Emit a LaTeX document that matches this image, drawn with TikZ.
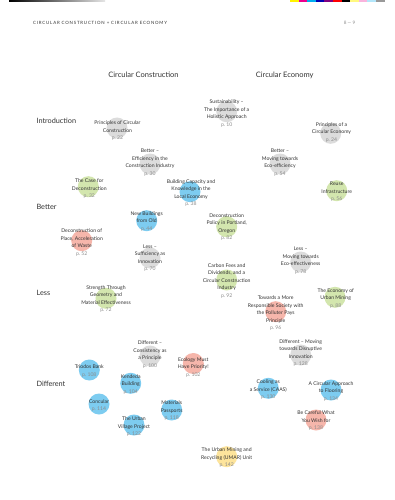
\documentclass[tikz,border=0pt]{standalone}
\usepackage{fontspec}
\setmainfont{Lato}
\newfontfamily\runfont[LetterSpace=18]{Lato}
\definecolor{grayc}{HTML}{DCDCDC}
\definecolor{greenc}{HTML}{D3E6AE}
\definecolor{bluec}{HTML}{7DCCF0}
\definecolor{redc}{HTML}{F6B6AB}
\definecolor{yellowc}{HTML}{FDE49C}
\definecolor{txt}{HTML}{333333}
\definecolor{pgc}{HTML}{8C8C8C}
\newcommand{\pg}[1]{\textcolor{pgc}{p.~#1}}

\tikzset{
  dot/.style={circle, minimum size=21pt, inner sep=0pt},
  topic/.style={align=center, text=txt, inner sep=0pt,
    font=\fontsize{5.1}{7.5}\selectfont},
  colhead/.style={text=txt, font=\fontsize{7.5}{8}\selectfont},
  rowhead/.style={text=txt, anchor=west, font=\fontsize{7.3}{8}\selectfont},
}

\begin{document}
\begin{tikzpicture}[x=1pt, y=-1pt]

        % Page and printer marks
        \fill[white] (0,0) rectangle (395,500);
        \useasboundingbox (0,0) rectangle (395,500);
        \shade[left color=black, right color=black!10] (9,0) rectangle (105,2);
        \foreach \c [count=\i] in {yellow, magenta, cyan, blue!70!black, violet, red, black, yellow!50, magenta!30, cyan!30, black!40}
            \fill[\c] ({290+(\i-1)*8.6},0) rectangle ({290+\i*8.6},2.5);

        % Running head
        \node[anchor=west, text=txt, inner sep=0pt, font=\runfont\fontsize{4.4}{5}\selectfont] (runhead) at (33,23) {CIRCULAR CONSTRUCTION + CIRCULAR ECONOMY};
        \node[text=pgc, inner sep=0pt, font=\fontsize{4.6}{5}\selectfont] (folio) at (349.5,23) {8 --- 9};

        % Column and row labels
        \node[colhead] (cc) at (143.5,75) {Circular Construction};
        \node[colhead] (ce) at (284.7,75) {Circular Economy};
        \node[rowhead] (intro) at (33,121) {Introduction};
        \node[rowhead] (better) at (33,207) {Better};
        \node[rowhead] (less) at (33,293) {Less};
        \node[rowhead] (diff) at (33,384) {Different};

        % Introduction
        \node[dot, fill=grayc] (pccdot) at (117,128) {};
        \node[topic] (pcc) at (117.5,130.7) {Principles of Circular\\Construction\\\pg{22}};
        \node[dot, fill=grayc] (susdot) at (226.7,111.7) {};
        \node[topic] (sus) at (226.7,113.4) {Sustainability --\\The Importance of a\\Holistic Approach\\\pg{10}};
        \node[dot, fill=grayc] (pcedot) at (330.7,133.3) {};
        \node[topic] (pce) at (331.5,132.2) {Principles of a\\Circular Economy\\\pg{24}};

        % Better
        \node[dot, fill=grayc] (effdot) at (150,164) {};
        \node[topic] (eff) at (150,162.5) {Better --\\Efficiency in the\\Construction Industry\\\pg{30}};
        \node[dot, fill=grayc] (ecodot) at (280,164) {};
        \node[topic] (eco) at (280,162.4) {Better --\\Moving towards\\Eco-efficiency\\\pg{54}};
        \node[dot, fill=greenc] (casedot) at (88.3,186.7) {};
        \node[topic] (case) at (89.3,188.8) {The Case for\\Deconstruction\\\pg{32}};
        \node[dot, fill=bluec] (capdot) at (190,191.7) {};
        \node[topic] (cap) at (191,193) {Building Capacity and\\Knowledge in the\\Local Economy\\\pg{38}};
        \node[dot, fill=greenc] (reusedot) at (336.7,190.7) {};
        \node[topic] (reuse) at (336.7,191.9) {Reuse\\Infrastructure\\\pg{56}};
        \node[dot, fill=bluec] (newdot) at (146.7,220.7) {};
        \node[topic] (new) at (146.7,221.4) {New Buildings\\from Old\\\pg{44}};
        \node[dot, fill=greenc] (portdot) at (226.7,226.7) {};
        \node[topic] (port) at (226.7,227.3) {Deconstruction\\Policy in Portland,\\Oregon\\\pg{82}};
        \node[dot, fill=redc] (placedot) at (81.7,240.7) {};
        \node[topic] (place) at (81.7,242.4) {Deconstruction of\\Place, Acceleration\\of Waste\\\pg{52}};

        % Less
        \node[dot, fill=grayc] (suffdot) at (150,258) {};
        \node[topic] (suff) at (150,258.3) {Less --\\Sufficiency as\\Innovation\\\pg{70}};
        \node[dot, fill=grayc] (effecdot) at (300.7,262) {};
        \node[topic] (effec) at (300.7,260.4) {Less --\\Moving towards\\Eco-effectiveness\\\pg{78}};
        \node[dot, fill=greenc] (feesdot) at (226.7,280) {};
        \node[topic] (fees) at (226.7,281) {Carbon Fees and\\Dividends, and a\\Circular Construction\\Industry\\\pg{92}};
        \node[dot, fill=greenc] (miningdot) at (335,297.3) {};
        \node[topic] (mining) at (335.7,298.4) {The Economy of\\Urban Mining\\\pg{88}};
        \node[dot, fill=greenc] (geomdot) at (106,298.3) {};
        \node[topic] (geom) at (106,298.9) {Strength Through\\Geometry and\\Material Effectiveness\\\pg{72}};
        \node[dot, fill=redc] (pollutdot) at (275.7,311.7) {};
        \node[topic] (pollut) at (275.7,313.3) {Towards a More\\Responsible Society with\\the Polluter Pays\\Principle\\\pg{96}};

        % Different
        \node[dot, fill=grayc] (consdot) at (150,356) {};
        \node[topic] (cons) at (150,354.6) {Different --\\Consistency as\\a Principle\\\pg{100}};
        \node[dot, fill=grayc] (disrdot) at (300.7,355) {};
        \node[topic] (disr) at (300.7,353) {Different -- Moving\\towards Disruptive\\Innovation\\\pg{128}};
        \node[dot, fill=redc] (ecoldot) at (193.3,363.5) {};
        \node[topic] (ecol) at (193.3,367.5) {Ecology Must\\Have Priority!\\\pg{102}};
        \node[dot, fill=bluec] (triodosdot) at (89.3,370) {};
        \node[topic] (triodos) at (89.3,371.2) {Triodos Bank\\\pg{108}};
        \node[dot, fill=bluec] (kendedadot) at (130.7,383.3) {};
        \node[topic] (kendeda) at (130.7,384.1) {Kendeda\\Building\\\pg{104}};
        \node[dot, fill=bluec] (concdot) at (99,404) {};
        \node[topic] (conc) at (99,405.8) {Concular\\\pg{114}};
        \node[dot, fill=bluec] (passdot) at (171.7,410) {};
        \node[topic] (pass) at (171.7,410.9) {Materials\\Passports\\\pg{118}};
        \node[dot, fill=bluec] (villdot) at (134,425) {};
        \node[topic] (vill) at (134,426.7) {The Urban\\Village Project\\\pg{122}};
        \node[dot, fill=bluec] (caasdot) at (268.3,388.3) {};
        \node[topic] (caas) at (268.3,389.7) {Cooling as\\a Service (CAAS)\\\pg{130}};
        \node[dot, fill=bluec] (floordot) at (331,390) {};
        \node[topic] (floor) at (331,391.2) {A Circular Approach\\to Flooring\\\pg{134}};
        \node[dot, fill=redc] (wishdot) at (316,420) {};
        \node[topic] (wish) at (316,420.9) {Be Careful What\\You Wish for\\\pg{138}};
        \node[dot, fill=yellowc] (umardot) at (226.7,456.7) {};
        \node[topic] (umar) at (226.7,457.6) {The Urban Mining and\\Recycling (UMAR) Unit\\\pg{142}};

\end{tikzpicture}
\end{document}
